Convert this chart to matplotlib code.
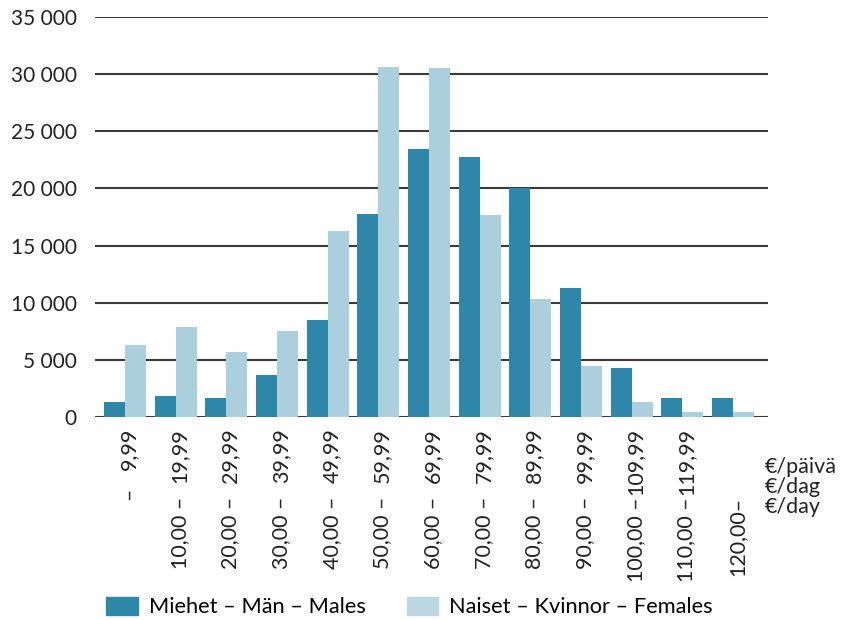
import matplotlib
matplotlib.use("Agg")
import matplotlib.pyplot as plt
import matplotlib.transforms as mtransforms
from matplotlib.patches import Patch
import numpy as np

plt.rcParams['font.family'] = ['Lato', 'DejaVu Sans']

# Income classes, euros per day
range_from = ["–", "10,00 –", "20,00 –", "30,00 –", "40,00 –", "50,00 –", "60,00 –",
              "70,00 –", "80,00 –", "90,00 –", "100,00 –", "110,00 –", "120,00–"]
range_to = ["9,99", "19,99", "29,99", "39,99", "49,99", "59,99", "69,99",
            "79,99", "89,99", "99,99", "109,99", "119,99", ""]

males = [1280, 1800, 1630, 3640, 8520, 17760, 23430, 22730, 20030, 11300, 4250, 1630, 1700]
females = [6340, 7910, 5730, 7560, 16280, 30660, 30580, 17660, 10350, 4420, 1280, 410, 410]

male_color = "#2E87A8"
female_color = "#ABCFDC"
text_color = "#222222"

fig = plt.figure(figsize=(8.44, 6.2), dpi=100)
ax = fig.add_axes([95 / 844, 1 - 417 / 620, (768 - 95) / 844, 400 / 620])

x = np.arange(len(males))
w = 0.414
ax.bar(x - w / 2, males, w, color=male_color, zorder=3)
ax.bar(x + w / 2, females, w, color=female_color, zorder=3)

ax.set_xlim(-0.591, 12.69)
ax.set_ylim(0, 35000)
ticks = np.arange(0, 35001, 5000)
ax.set_yticks(ticks)
ax.set_yticklabels([f"{t:,}".replace(",", " ") for t in ticks], fontsize=15, color=text_color)
ax.tick_params(axis='y', length=0, pad=13)
ax.set_xticks([])
for t in ticks:
    ax.axhline(t, color="#3a3a3a", lw=1.5, zorder=1)
for s in ax.spines.values():
    s.set_visible(False)

# two-part rotated class labels under the bars
trans = mtransforms.blended_transform_factory(ax.transData, fig.transFigure)
for i in range(len(males)):
    xi = i + 0.08
    if range_to[i]:
        ax.text(xi, 1 - 428 / 620, range_to[i], rotation=90, ha='center', va='top',
                fontsize=15.5, color=text_color, transform=trans)
    y_low = 1 - 488 / 620 if i == 0 else 1 - 497 / 620
    ax.text(xi, y_low, range_from[i], rotation=90, ha='center', va='top',
            fontsize=15.5, color=text_color, transform=trans)

fig.text(765 / 844, 1 - 487 / 620, "€/päivä\n€/dag\n€/day", ha='left', va='center',
         fontsize=15.5, color=text_color, linespacing=1.0)

handles = [Patch(color=male_color), Patch(color="#BBD7E1")]
fig.legend(handles, ["Miehet – Män – Males", "Naiset – Kvinnor – Females"],
           loc='center left', bbox_to_anchor=(106 / 844, 1 - 607 / 620), ncol=2,
           frameon=False, handlelength=1.45, handleheight=0.9,
           handletextpad=0.5, columnspacing=1.9, borderaxespad=0, borderpad=0,
           prop={'size': 15.7})

fig.savefig("out.png", dpi=100)
